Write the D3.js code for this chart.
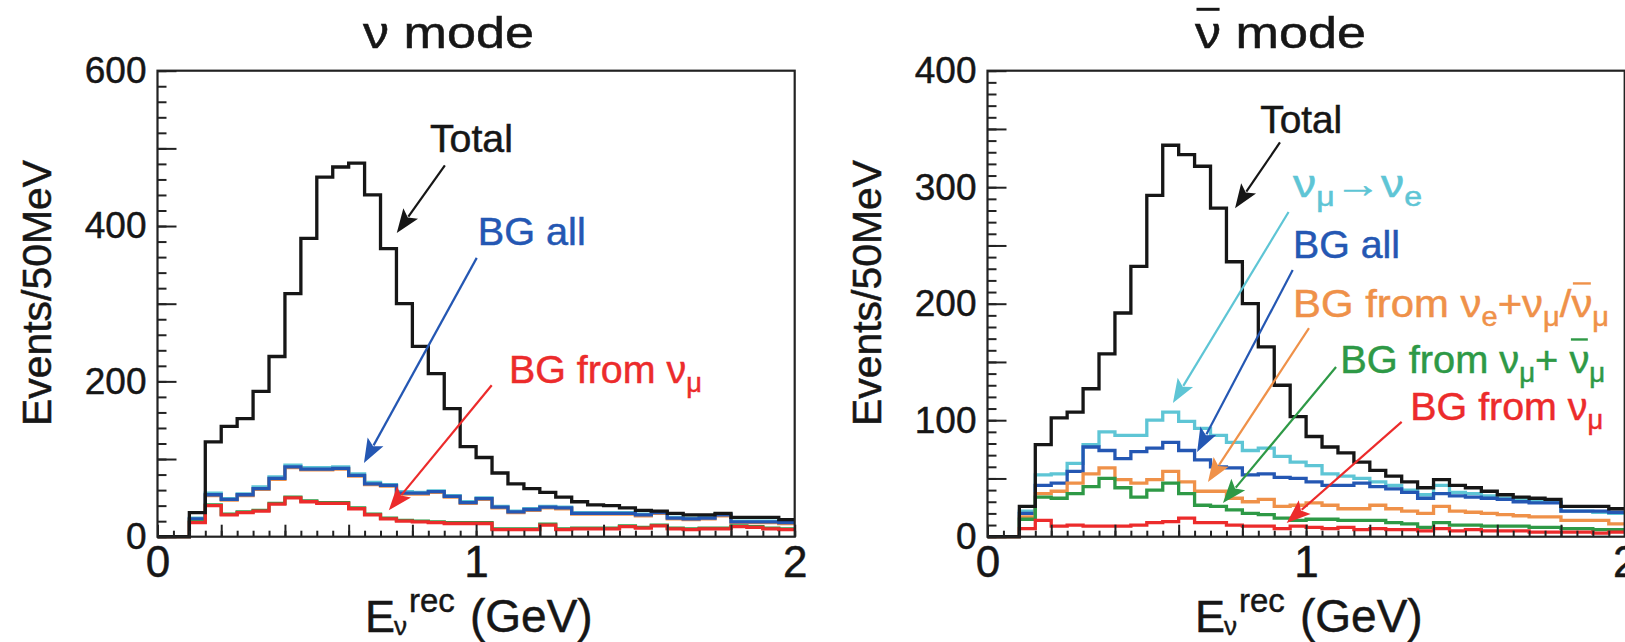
<!DOCTYPE html>
<html>
<head>
<meta charset="utf-8">
<script src="https://cdn.jsdelivr.net/npm/d3@7"></script>
<style>
  body { margin: 0; background: #fff; }
  text { font-family: "Liberation Sans", Arial, Helvetica, sans-serif; }
</style>
</head>
<body>
<div id="chart"></div>
<script>
//binning and tick labels
var binWidth = 0.05;   // GeV
var xTickLabels = [0, 1, 2];
var nuYTickLabels = [0, 200, 400, 600];
var nubarYTickLabels = [0, 100, 200, 300, 400];

//nu mode, events per 50 MeV bin (0 - 2 GeV, 40 bins)
var nuTotal  = [0,0,31,122,142,152,187,232,313,384,463,476,481,440,371,300,245,210,165,116,102,82,68,62,57,51,45,41,40,37,34,33,30,28,28,30,25,25,25,22];
var nuSignal = [0,0,24,56,49,55,64,77,92,89,89,90,81,70,67,58,57,59,53,45,50,39,33,36,39,38,31,31,31,31,29,32,25,24,25,29,20,20,20,19];
var nuBgAll  = [0,0,23,54,48,54,62,75,90,87,87,88,79,68,66,56,56,58,52,44,49,38,32,35,38,37,30,30,30,30,28,31,24,23,24,28,19,19,19,18];
var nuBgNue  = [0,0,22,53,47,53,61,74,89,86,86,87,78,67,65,55,55,57,51,43,48,37,31,34,37,36,29,29,29,29,27,30,23,22,23,27,18,18,18,17];
var nuBgNumu2 = [0,0,19,41,29,32,34,43,51,46,44,44,37,29,24,21,20,19,18,18,18,10,10,10,16,10,11,11,11,14,12,15,11,10,11,11,14,13,11,10];
var nuBgNumu = [0,0,18,40,28,31,33,42,50,45,43,43,36,28,23,20,19,18,17,17,17,9,9,9,15,9,10,10,10,13,11,14,10,9,10,10,13,12,10,9];

//nubar mode
var nubarTotal  = [0,0,26,79,102,107,127,157,192,232,293,336,328,318,282,236,200,163,130,103,86,77,72,64,57,52,47,42,49,44,42,39,36,34,33,32,26,26,26,24];
var nubarSignal = [0,0,22,53,54,63,79,90,87,87,100,107,99,93,87,81,74,76,69,64,61,54,52,50,47,44,40,36,44,38,37,35,33,32,31,30,22,22,21,20];
var nubarBgAll  = [0,0,20,44,46,56,77,74,67,73,76,81,74,66,60,59,53,54,51,50,47,44,44,46,43,41,38,33,37,35,34,33,32,30,29,29,22,22,22,21];
var nubarBgNue  = [0,0,17,37,39,46,54,59,49,46,49,56,47,39,39,33,30,32,26,27,29,27,24,24,27,24,22,20,26,22,21,20,19,18,17,17,14,14,14,11];
var nubarBgNumu2 = [0,0,15,34,33,37,43,50,42,34,40,46,37,27,26,23,20,19,16,14,15,15,14,14,14,12,11,8,12,10,10,9,9,9,8,8,7,7,6,6];
var nubarBgNumu = [0,0,7,14,9,10,9,9,9,10,12,13,16,12,12,10,9,9,7,9,8,7,8,6,7,6,6,5,7,5,6,5,5,5,4,4,4,4,3,4];

//colours
var cBlack = '#161616', cBlue = '#2457b3', cCyan = '#5ec5d5', cOrange = '#ef9149', cGreen = '#2e9946', cRed = '#ec2b2b';

var width = 1625, height = 642;
var frame = {t: 70.7, b: 536.7, w: 637.2};

var svg = d3.select('#chart')
    .append('svg')
    .attr('width', width)
    .attr('height', height)
    .style('background', '#fff');

var bars = []; //overlines to add after text is laid out

var panels = [
    {
        left: 157.5, yMax: 600, yLabels: nuYTickLabels, yMinor: 20, yMajor: 100,
        title: [{t: 'ν'}, {t: ' mode'}],
        series: [
            {v: nuSignal, c: cCyan}, {v: nuBgNue, c: cOrange}, {v: nuBgAll, c: cBlue},
            {v: nuBgNumu2, c: cGreen}, {v: nuBgNumu, c: cRed}, {v: nuTotal, c: cBlack}
        ],
        notes: [
            {pieces: [{t: 'Total'}], c: cBlack, at: [0.855, 495], len: 83, from: [0.902, 478], to: [0.751, 391]},
            {pieces: [{t: 'BG all'}], c: cBlue, at: [1.005, 375], len: 108, from: [1.002, 359], to: [0.648, 95]},
            {pieces: [{t: 'BG from ν'}, {t: 'μ', sub: true}], c: cRed, at: [1.103, 198], len: 193, from: [1.049, 195], to: [0.726, 34]}
        ]
    },
    {
        left: 987.5, yMax: 400, yLabels: nubarYTickLabels, yMinor: 10, yMajor: 50,
        title: [{t: 'ν', bar: true}, {t: ' mode'}],
        series: [
            {v: nubarSignal, c: cCyan}, {v: nubarBgAll, c: cBlue}, {v: nubarBgNue, c: cOrange},
            {v: nubarBgNumu2, c: cGreen}, {v: nubarBgNumu, c: cRed}, {v: nubarTotal, c: cBlack}
        ],
        notes: [
            {pieces: [{t: 'Total'}], c: cBlack, at: [0.856, 346.5], len: 82, from: [0.918, 338.4], to: [0.777, 282]},
            {pieces: [{t: 'ν'}, {t: 'μ', sub: true}, {t: '→ν'}, {t: 'e', sub: true}], c: cCyan, at: [0.959, 291.6], len: 129, from: [0.945, 278.7], to: [0.582, 114.8]},
            {pieces: [{t: 'BG all'}], c: cBlue, at: [0.959, 239.2], len: 107, from: [0.958, 228.9], to: [0.658, 72.7]},
            {pieces: [{t: 'BG from ν'}, {t: 'e', sub: true}, {t: '+ν'}, {t: 'μ', sub: true}, {t: '/'}, {t: 'ν', bar: true}, {t: 'μ', sub: true}], c: cOrange, at: [0.959, 188.6], len: 316, from: [1.009, 179.1], to: [0.692, 47]},
            {pieces: [{t: 'BG from ν'}, {t: 'μ', sub: true}, {t: '+ '}, {t: 'ν', bar: true}, {t: 'μ', sub: true}], c: cGreen, at: [1.107, 140.5], len: 265, from: [1.094, 145.7], to: [0.739, 28.9]},
            {pieces: [{t: 'BG from ν'}, {t: 'μ', sub: true}], c: cRed, at: [1.327, 100.2], len: 193, from: [1.300, 98.5], to: [0.939, 11.8]}
        ]
    }
];

panels.forEach(drawPanel);

//overlines (anti-neutrino bars) drawn once the text has its final size
bars.forEach(function (b) {
    var box = b.node.getBBox();
    svg.append('line')
        .attr('x1', box.x + 1.5)
        .attr('x2', box.x + box.width - 1.5)
        .attr('y1', b.y)
        .attr('y2', b.y)
        .attr('stroke', b.color)
        .attr('stroke-width', b.w);
});

function richText(g, px, py, pieces, size, color, len) {
    var t = g.append('text')
        .attr('x', px)
        .attr('y', py)
        .attr('fill', color)
        .attr('stroke', color)
        .attr('stroke-width', 0.5)
        .style('font-size', size + 'px');
    if (len) t.attr('textLength', len).attr('lengthAdjust', 'spacingAndGlyphs');
    var shift = 0;
    pieces.forEach(function (p) {
        var want = p.sub ? size * 0.23 : 0;
        var ts = t.append('tspan').text(p.t).attr('dy', want - shift);
        if (p.sub) ts.style('font-size', Math.round(size * 0.68) + 'px');
        shift = want;
        if (p.bar) bars.push({node: ts.node(), y: py - size * 0.86, color: color, w: size > 42 ? 3 : 2.4});
    });
    return t;
}

function drawPanel(p) {
    var x = d3.scaleLinear().domain([0, 2]).range([p.left, p.left + frame.w]);
    var y = d3.scaleLinear().domain([0, p.yMax]).range([frame.b, frame.t]);
    var g = svg.append('g');

    //histograms as step lines
    var line = d3.line()
        .x(function (d) { return x(d[0]); })
        .y(function (d) { return y(d[1]); })
        .curve(d3.curveStepAfter);

    p.series.forEach(function (s) {
        var pts = s.v.map(function (v, i) { return [i * binWidth, v]; });
        pts.push([s.v.length * binWidth, s.v[s.v.length - 1]]);
        g.append('path')
            .datum(pts)
            .attr('d', line)
            .attr('fill', 'none')
            .attr('stroke', s.c)
            .attr('stroke-width', 3.3)
            .attr('stroke-linejoin', 'miter');
    });

    //frame
    g.append('rect')
        .attr('x', x(0)).attr('y', y(p.yMax))
        .attr('width', x(2) - x(0)).attr('height', y(0) - y(p.yMax))
        .attr('fill', 'none').attr('stroke', '#222').attr('stroke-width', 2.2);

    //ticks pointing inward
    var yMinor = d3.range(0, p.yMax + 0.1, p.yMinor);
    var yMajor = d3.range(0, p.yMax + 0.1, p.yMajor);
    var xMinor = d3.range(0, 2.001, 0.05);
    var xMajor = d3.range(0, 2.001, 0.2);

    [[yMinor, 9], [yMajor, 19]].forEach(function (t) {
        g.append('g')
            .attr('transform', 'translate(' + x(0) + ',0)')
            .call(d3.axisLeft(y).tickValues(t[0]).tickSize(-t[1]).tickFormat(''))
            .call(function (a) { a.select('.domain').remove(); a.selectAll('line').attr('stroke', '#222').attr('stroke-width', 2); });
    });
    [[xMinor, 6], [xMajor, 12]].forEach(function (t) {
        g.append('g')
            .attr('transform', 'translate(0,' + y(0) + ')')
            .call(d3.axisBottom(x).tickValues(t[0]).tickSize(-t[1]).tickFormat(''))
            .call(function (a) { a.select('.domain').remove(); a.selectAll('line').attr('stroke', '#222').attr('stroke-width', 2); });
    });

    //tick labels
    var yAx = g.append('g')
        .attr('transform', 'translate(' + x(0) + ',0)')
        .call(d3.axisLeft(y).tickValues(p.yLabels).tickSize(0).tickPadding(11).tickFormat(d3.format('d')));
    yAx.select('.domain').remove();
    yAx.selectAll('text').attr('fill', cBlack).attr('stroke', cBlack).attr('stroke-width', 0.5)
        .style('font-size', '37px')
        .style('font-family', '"Liberation Sans", Arial, sans-serif');

    var xAx = g.append('g')
        .attr('transform', 'translate(0,' + y(0) + ')')
        .call(d3.axisBottom(x).tickValues(xTickLabels).tickSize(0).tickPadding(9).tickFormat(d3.format('d')));
    xAx.select('.domain').remove();
    xAx.selectAll('text').attr('fill', cBlack).attr('stroke', cBlack).attr('stroke-width', 0.5)
        .style('font-size', '44px')
        .style('font-family', '"Liberation Sans", Arial, sans-serif');

    //axis titles
    var mid = p.left - 157.5;
    g.append('text')
        .attr('transform', 'translate(' + (51 + mid) + ',293) rotate(-90)')
        .attr('text-anchor', 'middle')
        .attr('fill', cBlack).attr('stroke', cBlack).attr('stroke-width', 0.5)
        .attr('textLength', 266).attr('lengthAdjust', 'spacingAndGlyphs')
        .style('font-size', '41px')
        .text('Events/50MeV');

    //E_nu^rec (GeV) as one text with placed pieces
    var xt = g.append('text').attr('fill', cBlack).attr('stroke', cBlack).attr('stroke-width', 0.5);
    xt.append('tspan').attr('x', 365 + mid).attr('y', 632).style('font-size', '45px').text('E');
    xt.append('tspan').attr('x', 394 + mid).attr('y', 635).style('font-size', '26px').text('ν');
    xt.append('tspan').attr('x', 409 + mid).attr('y', 612).style('font-size', '33px').text('rec');
    xt.append('tspan').attr('x', 470 + mid).attr('y', 632).style('font-size', '46px').text('(GeV)');

    //panel title
    richText(g, 363 + mid + (mid ? 2 : 0), 48, p.title, 45, cBlack, 171);

    //annotations with arrows
    p.notes.forEach(function (n) {
        richText(g, x(n.at[0]), y(n.at[1]), n.pieces, 39, n.c, n.len);
        drawArrow(g, x(n.from[0]), y(n.from[1]), x(n.to[0]), y(n.to[1]), n.c);
    });
}

function drawArrow(g, x1, y1, x2, y2, color) {
    var dx = x2 - x1, dy = y2 - y1;
    var len = Math.sqrt(dx * dx + dy * dy);
    var ux = dx / len, uy = dy / len;
    var hl = 24, hw = 9;
    var bx = x2 - ux * hl, by = y2 - uy * hl;
    g.append('line')
        .attr('x1', x1).attr('y1', y1)
        .attr('x2', bx + ux * 4).attr('y2', by + uy * 4)
        .attr('stroke', color).attr('stroke-width', 2.2);
    g.append('path')
        .attr('d', 'M' + x2 + ',' + y2 +
            'L' + (bx - uy * hw) + ',' + (by + ux * hw) +
            'L' + (bx + ux * 5) + ',' + (by + uy * 5) +
            'L' + (bx + uy * hw) + ',' + (by - ux * hw) + 'Z')
        .attr('fill', color);
}
</script>
</body>
</html>
